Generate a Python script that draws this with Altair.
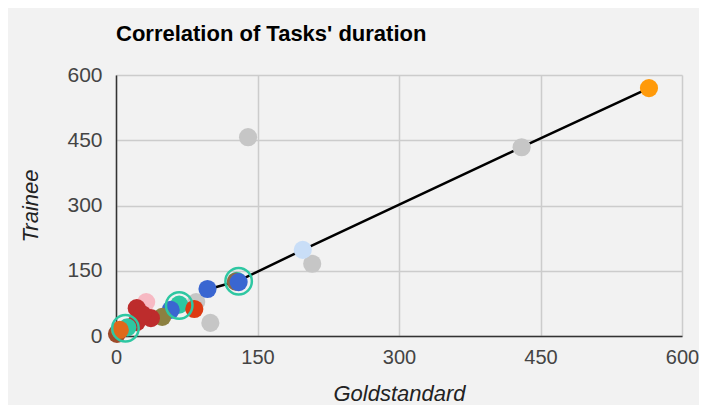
import altair as alt
import pandas as pd

# Filled points (drawing order = list order)
gold = [140, 430, 208, 100, 85, 198, 565, 67, 128, 127, 130, 97, 83, 58, 49, 32, 22, 37, 22, 28, 12, 1, 4]
trainee = [457, 434, 166, 30, 78, 198, 570, 72, 127, 125, 124, 108, 62, 60, 44, 78, 64, 41, 32, 50, 20, 5, 14]
colors = ["#c6c6c6", "#c6c6c6", "#c6c6c6", "#c6c6c6", "#c6c6c6", "#c9def7", "#ff9a0a",
          "#2ec7a2", "#2ec7a2", "#8f6a45", "#3a66d1", "#3a66d1", "#dd3a12", "#3a66d1",
          "#8c8040", "#f7b9c3", "#bd2c2c", "#bd2c2c", "#bd2c2c", "#bd2c2c", "#2ec7a2",
          "#9e4a2a", "#e0691a"]

# Hollow rings
ring_gold = [130, 67, 10]
ring_trainee = [126, 70, 18]

# Line series
line_gold = [97, 130, 198, 430, 565]
line_trainee = [107, 127, 198, 434, 570]

pts = pd.DataFrame({"Goldstandard": gold, "Trainee": trainee, "c": colors, "o": list(range(len(gold)))})
rings = pd.DataFrame({"Goldstandard": ring_gold, "Trainee": ring_trainee})
lines = pd.DataFrame({"Goldstandard": line_gold, "Trainee": line_trainee})

ticks = [0, 150, 300, 450, 600]
xs = alt.Scale(domain=[0, 600], nice=False)
ys = alt.Scale(domain=[0, 600], nice=False)

common = dict(values=ticks, grid=True, tickSize=0, labelFlush=False,
              titleFontStyle="italic", titleFontWeight="normal",
              titleFontSize=22, labelColor="#444", titleColor="#222",
              domainColor="#333", domainWidth=1.5, gridColor="#cccccc", gridWidth=1.5,
              labelFont="Liberation Sans", titleFont="Liberation Sans")
xax = alt.Axis(title="Goldstandard", labelPadding=11, titlePadding=16, labelFontSize=20, **common)
yax = alt.Axis(title="Trainee", labelPadding=14, titlePadding=24, labelFontSize=21, **common)

line = alt.Chart(lines).mark_line(color="black", strokeWidth=2.5).encode(
    x=alt.X("Goldstandard:Q", scale=xs, axis=xax),
    y=alt.Y("Trainee:Q", scale=ys, axis=yax),
)

dots = alt.Chart(pts).mark_circle(opacity=1, size=330).encode(
    x=alt.X("Goldstandard:Q", scale=xs),
    y=alt.Y("Trainee:Q", scale=ys),
    color=alt.Color("c:N", scale=None),
    order="o:Q",
)

ring = alt.Chart(rings).mark_point(shape="circle", filled=False, size=700, strokeWidth=2.5,
                                   color="#2ec7a2", opacity=1).encode(
    x=alt.X("Goldstandard:Q", scale=xs),
    y=alt.Y("Trainee:Q", scale=ys),
)

chart = alt.layer(line, dots, ring).properties(
    width=566, height=261,
    title=alt.TitleParams("Correlation of Tasks' duration", anchor="start", frame="group",
                          font="Liberation Sans", fontSize=22, fontWeight="bold",
                          color="black", offset=18),
    autosize=alt.AutoSizeParams(type="none"),
    padding={"left": 108, "top": 67, "right": 17, "bottom": 69},
    background="#f2f2f2",
).configure_view(stroke=None, fill="#f2f2f2")

chart.save("out.html", embed_options={"renderer": "svg", "actions": False})
